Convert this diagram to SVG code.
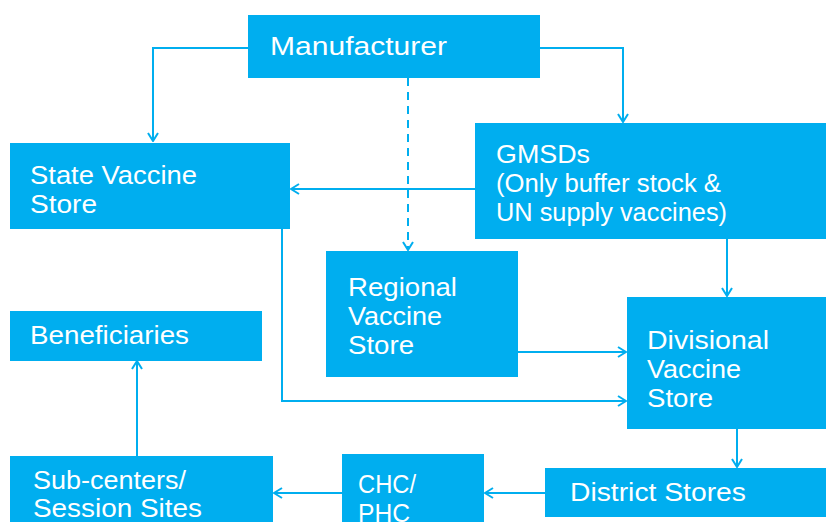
<svg xmlns="http://www.w3.org/2000/svg" width="826" height="522" viewBox="0 0 826 522">
<defs>
<style>
.box{fill:#00AEEF}
.t{font-family:"Liberation Sans",Arial,sans-serif;font-size:26px;fill:#ffffff}
.c{fill:none;stroke:#00AEEF;stroke-width:2}
.d{stroke-dasharray:8 6}
</style>
<marker id="ah" viewBox="0 0 10 12" refX="9" refY="6" markerWidth="10" markerHeight="12" markerUnits="userSpaceOnUse" orient="auto">
<path d="M1,1 L9,6 L1,11" fill="none" stroke="#00AEEF" stroke-width="2"/>
</marker>
</defs>
<rect width="826" height="522" fill="#ffffff"/>
<g id="connectors">
<path class="c" d="M248,48 H153 V141" marker-end="url(#ah)"/>
<path class="c" d="M540,48 H623 V122" marker-end="url(#ah)"/>
<path class="c d" d="M408,78 V250" marker-end="url(#ah)"/>
<path class="c" d="M475,189 H291" marker-end="url(#ah)"/>
<path class="c" d="M727,239 V296" marker-end="url(#ah)"/>
<path class="c" d="M518,352 H626" marker-end="url(#ah)"/>
<path class="c" d="M282,229 V401 H626" marker-end="url(#ah)"/>
<path class="c" d="M737,429 V467" marker-end="url(#ah)"/>
<path class="c" d="M545,493 H485" marker-end="url(#ah)"/>
<path class="c" d="M342,493 H274" marker-end="url(#ah)"/>
<path class="c" d="M137,456 V361" marker-end="url(#ah)"/>
</g>
<g id="manufacturer">
<rect class="box" x="248" y="15" width="292" height="63"/>
<text class="t" x="270" y="55" textLength="177" lengthAdjust="spacingAndGlyphs">Manufacturer</text>
</g>
<g id="state">
<rect class="box" x="10" y="143" width="280" height="86"/>
<text class="t" x="30" y="184" textLength="167" lengthAdjust="spacingAndGlyphs">State Vaccine</text>
<text class="t" x="30" y="213" textLength="67" lengthAdjust="spacingAndGlyphs">Store</text>
</g>
<g id="gmsd">
<rect class="box" x="475" y="123" width="351" height="116"/>
<text class="t" x="496" y="163" textLength="94" lengthAdjust="spacingAndGlyphs">GMSDs</text>
<text class="t" x="496" y="192" textLength="225" lengthAdjust="spacingAndGlyphs">(Only buffer stock &amp;</text>
<text class="t" x="496" y="221" textLength="231" lengthAdjust="spacingAndGlyphs">UN supply vaccines)</text>
</g>
<g id="regional">
<rect class="box" x="326" y="251" width="192" height="126"/>
<text class="t" x="348" y="296" textLength="109" lengthAdjust="spacingAndGlyphs">Regional</text>
<text class="t" x="348" y="325" textLength="94" lengthAdjust="spacingAndGlyphs">Vaccine</text>
<text class="t" x="348" y="354" textLength="66" lengthAdjust="spacingAndGlyphs">Store</text>
</g>
<g id="divisional">
<rect class="box" x="627" y="297" width="199" height="132"/>
<text class="t" x="647" y="349" textLength="122" lengthAdjust="spacingAndGlyphs">Divisional</text>
<text class="t" x="647" y="378" textLength="94" lengthAdjust="spacingAndGlyphs">Vaccine</text>
<text class="t" x="647" y="407" textLength="66" lengthAdjust="spacingAndGlyphs">Store</text>
</g>
<g id="beneficiaries">
<rect class="box" x="10" y="311" width="252" height="50"/>
<text class="t" x="30" y="344" textLength="159" lengthAdjust="spacingAndGlyphs">Beneficiaries</text>
</g>
<g id="district">
<rect class="box" x="545" y="468" width="281" height="49"/>
<text class="t" x="570" y="501" textLength="176" lengthAdjust="spacingAndGlyphs">District Stores</text>
</g>
<g id="chc">
<rect class="box" x="342" y="454" width="142" height="68"/>
<text class="t" x="358" y="493" textLength="58" lengthAdjust="spacingAndGlyphs">CHC/</text>
<text class="t" x="358" y="522" textLength="52" lengthAdjust="spacingAndGlyphs">PHC</text>
</g>
<g id="subcenters">
<rect class="box" x="10" y="456" width="263" height="66"/>
<text class="t" x="33" y="489" textLength="153" lengthAdjust="spacingAndGlyphs">Sub-centers/</text>
<text class="t" x="33" y="517" textLength="169" lengthAdjust="spacingAndGlyphs">Session Sites</text>
</g>
</svg>
